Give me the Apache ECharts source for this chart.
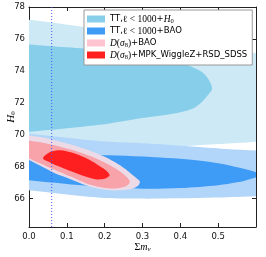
<!DOCTYPE html>
<html><head><meta charset="utf-8">
<script src="https://cdn.jsdelivr.net/npm/echarts@6/dist/echarts.min.js"></script>
<style>html,body{margin:0;padding:0;background:#fff}#c{width:266px;height:257px}</style>
</head><body><div id="c"></div>
<script>
// ---- axes ----
const xMin = 0, xMax = 0.6;
const yMin = 64.2, yMax = 78;
const xTicks = [0, 0.1, 0.2, 0.3, 0.4, 0.5];
const yTicks = [66, 68, 70, 72, 74, 76, 78];
const mnuLineX = 0.06;

// ---- legend entries ----
const seriesNames = ['TT,l<1000+H0', 'TT,l<1000+BAO', 'D(s8)+BAO', 'D(s8)+MPK_WiggleZ+RSD_SDSS'];

// ---- contour boundaries (x = sum m_nu, y = H0) ----
// TT, l<1000 + H0
const ttH0_95_x = [-0.02, 0, 0.14, 0.3, 0.45, 0.6, 0.64, 0.64, 0.6, 0.5, 0.43, 0.3, 0.15, 0, -0.02];
const ttH0_95_y = [77.25, 77.2, 76.76, 76.1, 75.55, 75.1, 75.0, 69.7, 69.55, 69.4, 69.3, 69.2, 69.2, 69.3, 69.35];
const ttH0_68_x = [-0.02, 0, 0.1, 0.2, 0.277, 0.34, 0.39, 0.43, 0.458, 0.476, 0.484, 0.472, 0.455, 0.43, 0.38, 0.3, 0.213, 0.1, 0, -0.02];
const ttH0_68_y = [75.7, 75.65, 75.47, 75.28, 75.1, 74.88, 74.6, 74.25, 73.9, 73.4, 72.85, 72.45, 72.0, 71.6, 71.3, 71.03, 70.7, 70.4, 70.17, 70.12];
// TT, l<1000 + BAO
const ttBAO_95_x = [-0.02, 0, 0.1, 0.213, 0.3, 0.43, 0.52, 0.6, 0.64, 0.64, 0.6, 0.5, 0.4, 0.3, 0.2, 0.1, 0, -0.02];
const ttBAO_95_y = [70.15, 70.05, 69.8, 69.54, 69.45, 69.25, 69.1, 69.0, 68.95, 66.2, 66.13, 66.05, 66.0, 65.98, 66.02, 66.24, 66.5, 66.55];
const ttBAO_68_x = [-0.02, 0, 0.1, 0.21, 0.3, 0.43, 0.5, 0.55, 0.59, 0.612, 0.59, 0.55, 0.5, 0.4, 0.3, 0.2, 0.1, 0, -0.02];
const ttBAO_68_y = [68.95, 68.9, 68.8, 68.7, 68.62, 68.42, 68.2, 67.95, 67.72, 67.47, 67.25, 67.0, 66.82, 66.64, 66.6, 66.72, 66.9, 67.13, 67.18];
// D(sigma8) + BAO
const dBAO_95_x = [-0.03, 0, 0.04, 0.08, 0.12, 0.16, 0.2, 0.235, 0.262, 0.282, 0.293, 0.288, 0.27, 0.245, 0.215, 0.185, 0.15, 0.11, 0.07, 0.029, 0, -0.03];
const dBAO_95_y = [70.2, 69.95, 69.8, 69.57, 69.32, 69.0, 68.6, 68.15, 67.7, 67.3, 67.05, 66.78, 66.58, 66.5, 66.5, 66.6, 66.82, 67.2, 67.55, 68.05, 68.4, 68.8];
// D(sigma8) + MPK_WiggleZ + RSD_SDSS
const dMPK_95_x = [-0.03, 0, 0.04, 0.08, 0.12, 0.16, 0.2, 0.23, 0.253, 0.266, 0.262, 0.245, 0.22, 0.19, 0.15, 0.11, 0.083, 0.055, 0.029, 0, -0.03];
const dMPK_95_y = [69.85, 69.62, 69.47, 69.25, 69.0, 68.67, 68.25, 67.85, 67.45, 67.1, 66.85, 66.68, 66.62, 66.7, 66.95, 67.36, 67.64, 67.92, 68.2, 68.52, 68.9];
const dMPK_68_x = [0.037, 0.056, 0.083, 0.115, 0.149, 0.181, 0.203, 0.213, 0.2, 0.176, 0.149, 0.115, 0.083, 0.056];
const dMPK_68_y = [68.52, 68.91, 69.02, 68.86, 68.54, 68.11, 67.76, 67.44, 67.22, 67.19, 67.36, 67.66, 67.96, 68.25];

// ---- styles ----
const legendColors = ['#87ceeb', '#3e9bf6', '#ffc4cf', '#ff1f1f'];
const groups = [
  [{x: ttH0_95_x, y: ttH0_95_y, fill: '#cde9f5'}, {x: ttH0_68_x, y: ttH0_68_y, fill: '#87ceeb'}],
  [{x: ttBAO_95_x, y: ttBAO_95_y, fill: '#b2d6fa'}, {x: ttBAO_68_x, y: ttBAO_68_y, fill: '#3e9bf6'}],
  [{x: dBAO_95_x, y: dBAO_95_y, fill: '#ecdbe7'}],
  [{x: dMPK_95_x, y: dMPK_95_y, fill: '#f8a2a9'}, {x: dMPK_68_x, y: dMPK_68_y, fill: '#fe2020'}]
];

const legendRich = [
  '{n|TT,}{m|ℓ < 1000}{n|+}{i|H}{sub|0}',
  '{n|TT,}{m|ℓ < 1000}{n|+BAO}',
  '{i|D}{m|(}{i|σ}{sub|8}{m|)}{n|+BAO}',
  '{i|D}{m|(}{i|σ}{sub|8}{m|)}{n|+MPK_WiggleZ+RSD_SDSS}'
];

const series = groups.map((list, gi) => ({
  type: 'custom',
  name: seriesNames[gi],
  coordinateSystem: 'cartesian2d',
  clip: true,
  silent: true,
  itemStyle: {color: legendColors[gi]},
  data: list.map(c => [c.x[0], c.y[0]]),
  renderItem: function (params, api) {
    const c = list[params.dataIndex];
    const pts = c.x.map((xv, k) => api.coord([xv, c.y[k]]));
    return {type: 'polygon', shape: {points: pts, smooth: 0.3}, style: {fill: c.fill, stroke: null}};
  }
}));
series.push({
  type: 'line', name: 'mnu', silent: true, symbol: 'none', z: 3,
  data: [[mnuLineX, yMin], [mnuLineX, yMax]],
  lineStyle: {color: '#4a55ff', width: 1, type: [1, 2]}
});

const axisColor = '#222';
const chart = echarts.init(document.getElementById('c'), null, {renderer: 'canvas'});
chart.setOption({
  animation: false,
  grid: {left: 29, right: 10, top: 7, bottom: 30, containLabel: false, outerBoundsMode: 'none'},
  legend: {
    data: seriesNames, orient: 'vertical', left: 84, top: 10,
    itemWidth: 18, itemHeight: 7, itemGap: 0,
    padding: [3, 5, 4, 3],
    backgroundColor: '#fff', borderColor: '#999', borderWidth: 1, borderRadius: 0,
    selectedMode: false,
    icon: 'rect',
    formatter: name => legendRich[seriesNames.indexOf(name)],
    textStyle: {
      color: '#000', fontSize: 8.5, lineHeight: 12,
      rich: {
        n: {fontFamily: 'DejaVu Sans', fontSize: 8.5, lineHeight: 12, color: '#000'},
        m: {fontFamily: 'Liberation Serif', fontSize: 9.5, lineHeight: 12, color: '#000'},
        i: {fontFamily: 'Liberation Serif', fontStyle: 'italic', fontSize: 9.5, lineHeight: 12, color: '#000'},
        sub: {fontFamily: 'Liberation Serif', fontSize: 6.5, lineHeight: 7, verticalAlign: 'bottom', color: '#000'}
      }
    }
  },
  xAxis: [{
    type: 'value', min: xMin, max: xMax, position: 'bottom',
    axisLine: {show: true, onZero: false, lineStyle: {color: axisColor}},
    axisTick: {show: true, inside: true, length: 4, customValues: xTicks, lineStyle: {color: axisColor}},
    axisLabel: {customValues: xTicks, formatter: v => v.toFixed(1), fontSize: 8.5, fontFamily: 'DejaVu Sans', color: '#111', margin: 5},
    splitLine: {show: false},
    name: '{a|Σ}{b|m}{s|ν}', nameLocation: 'middle', nameGap: 14, nameMoveOverlap: false,
    nameTextStyle: {rich: {
      a: {fontFamily: 'Liberation Serif', fontSize: 10, lineHeight: 12, color: '#000'},
      b: {fontFamily: 'Liberation Serif', fontStyle: 'italic', fontSize: 10, lineHeight: 12, color: '#000'},
      s: {fontFamily: 'Liberation Serif', fontStyle: 'italic', fontSize: 7, lineHeight: 7, verticalAlign: 'bottom', color: '#000'}
    }}
  }, {
    type: 'value', min: xMin, max: xMax, position: 'top',
    axisLine: {show: true, onZero: false, lineStyle: {color: axisColor}},
    axisTick: {show: true, inside: true, length: 4, customValues: xTicks, lineStyle: {color: axisColor}},
    axisLabel: {show: false}, splitLine: {show: false}
  }],
  yAxis: [{
    type: 'value', min: yMin, max: yMax, position: 'left',
    axisLine: {show: true, onZero: false, lineStyle: {color: axisColor}},
    axisTick: {show: true, inside: true, length: 4, customValues: yTicks, lineStyle: {color: axisColor}},
    axisLabel: {customValues: yTicks, fontSize: 8.5, fontFamily: 'DejaVu Sans', color: '#111', margin: 4},
    splitLine: {show: false},
    name: '{h|H}{s|0}', nameLocation: 'middle', nameGap: 12, nameRotate: 90, nameMoveOverlap: false,
    nameTextStyle: {rich: {
      h: {fontFamily: 'Liberation Serif', fontStyle: 'italic', fontSize: 11, lineHeight: 12, color: '#000'},
      s: {fontFamily: 'Liberation Serif', fontSize: 7, lineHeight: 7, verticalAlign: 'bottom', color: '#000'}
    }}
  }, {
    type: 'value', min: yMin, max: yMax, position: 'right',
    axisLine: {show: true, onZero: false, lineStyle: {color: axisColor}},
    axisTick: {show: true, inside: true, length: 4, customValues: yTicks, lineStyle: {color: axisColor}},
    axisLabel: {show: false}, splitLine: {show: false}
  }],
  series: series
});
</script>
</body></html>
